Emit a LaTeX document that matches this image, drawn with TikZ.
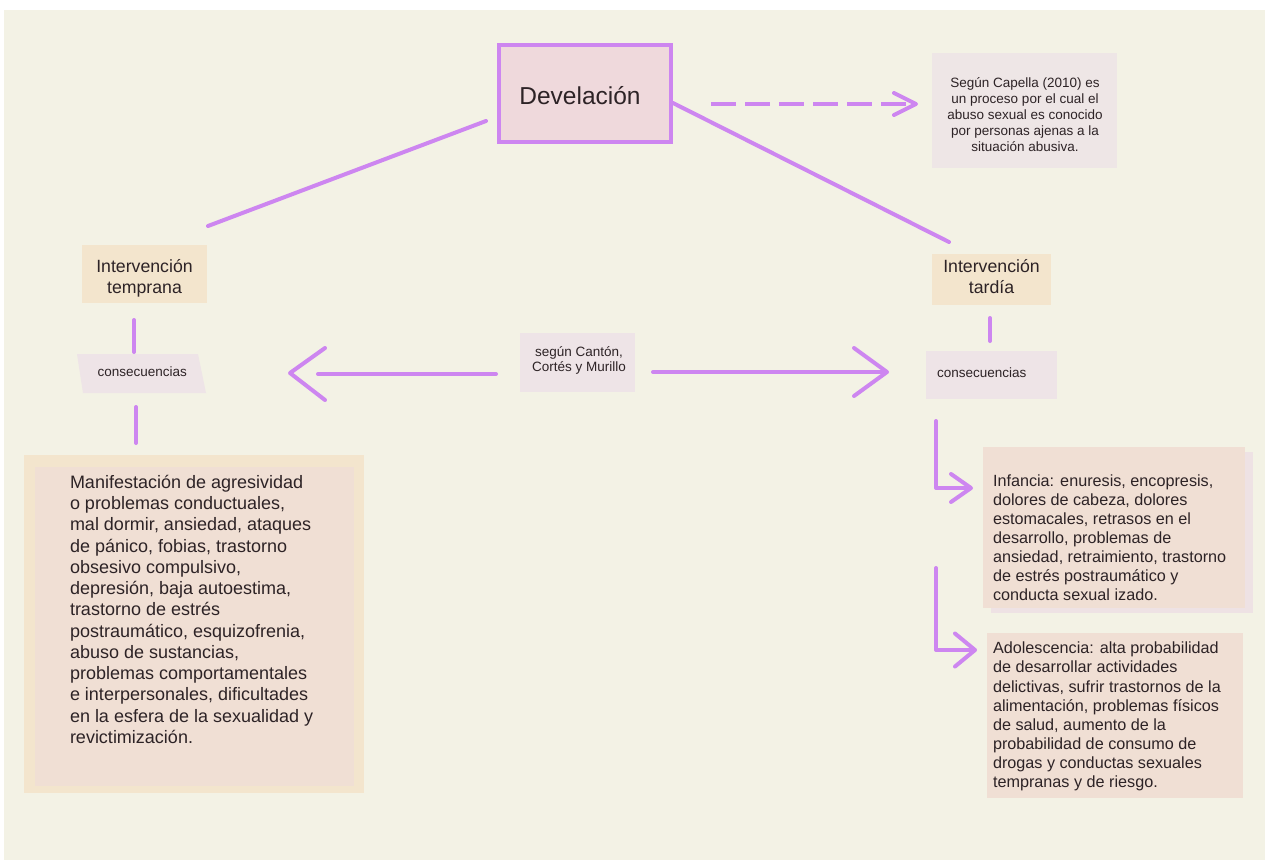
\documentclass[tikz,border=0pt]{standalone}
\usepackage{fontspec}
\setmainfont{Liberation Sans}
\usetikzlibrary{calc,arrows.meta}
\definecolor{bgc}{RGB}{243,242,229}
\definecolor{vio}{RGB}{205,134,240}
\definecolor{devfill}{RGB}{239,217,220}
\definecolor{capfill}{RGB}{238,230,230}
\definecolor{beige}{RGB}{243,229,205}
\definecolor{lav}{RGB}{238,228,231}
\definecolor{peach}{RGB}{240,223,212}
\definecolor{ghost}{RGB}{238,226,228}
\definecolor{ink}{RGB}{45,35,38}
\begin{document}
\begin{tikzpicture}[x=1pt,y=-1pt,
  conn/.style={draw=vio, line width=4pt, line cap=round, line join=round},
  barb/.style={-{Straight Barb[round,length=#1]}},
  rbox/.style={inner sep=0pt, outer sep=0pt, draw=none},
  txt/.style={inner sep=0pt, outer sep=0pt, text=ink},
  fA/.style={font=\fontsize{13.5}{15.8}\selectfont},
  fB/.style={font=\fontsize{16.2}{19.1}\selectfont},
  fC/.style={font=\fontsize{18}{21.25}\selectfont},
  fD/.style={font=\fontsize{17.7}{21}\selectfont}]
\useasboundingbox (0,0) rectangle (1265,860);
\fill[white] (0,0) rectangle (1265,860);
\fill[bgc] (4,10) rectangle (1265,860);

% boxes
\node[rbox, draw=vio, line width=4pt, fill=devfill, minimum width=172pt, minimum height=97pt] (dev) at (585,93.5) {};
\node[rbox, fill=capfill, minimum width=185pt, minimum height=115pt] (cap) at (1024.5,110.5) {};
\node[rbox, fill=beige, minimum width=125pt, minimum height=58pt] (itemp) at (144.5,274) {};
\node[rbox, fill=beige, minimum width=119pt, minimum height=51pt] (itard) at (991.5,279.5) {};
\fill[lav] (77,354) -- (198,354) -- (206,393) -- (83,393) -- cycle;
\node[rbox, fill=lav, minimum width=131pt, minimum height=48pt] (conR) at (991.5,375) {};
\node[rbox, fill=lav, minimum width=115pt, minimum height=59pt] (mid) at (577.5,362.5) {};
\node[rbox, fill=beige, minimum width=340pt, minimum height=338pt] (boxLo) at (194,624) {};
\node[rbox, fill=peach, minimum width=319pt, minimum height=319pt] (boxL) at (194.5,626.5) {};
\fill[ghost] (991,452) rectangle (1253,613);
\node[rbox, fill=peach, minimum width=262pt, minimum height=161pt] (inf) at (1114,527.5) {};
\node[rbox, fill=peach, minimum width=256pt, minimum height=165pt] (ado) at (1115,715.5) {};

% connectors
\draw[conn] ($(dev.west)+(-13,27.5)$) -- ($(itemp.north)+(63.5,-19)$);
\draw[conn] ($(dev.east)+(2,9.5)$) -- ($(itard.north)+(-42.5,-12)$);
\draw[conn, dash pattern=on 25pt off 9pt, line cap=butt, -{Straight Barb[round,length=22pt,width=22pt]}]
  ($(dev.east)+(40,10.5)$) -- ($(cap.west)+(-14,-6.5)$);
\draw[conn] ($(itemp.south)+(-10.5,17)$) -- ($(itemp.south)+(-10.5,49)$);
\draw[conn] ($(boxLo.north)+(-58,-48)$) -- ($(boxLo.north)+(-58,-12)$);
\draw[conn] ($(itard.south)+(-1.5,13)$) -- ($(itard.south)+(-1.5,36)$);
\coordinate (ltip) at (290,373);
\coordinate (rtip) at (889,372);
\draw[conn] ($(mid.west)+(-24,11.5)$) -- ($(ltip)+(28,1)$);
\draw[conn] ($(ltip)+(35,-25)$) -- (ltip) -- ($(ltip)+(35,27)$);
\draw[conn, -{Straight Barb[round,length=33pt,width=48pt]}] ($(mid.east)+(18,9.5)$) -- (rtip);
\draw[conn, -{Straight Barb[round,length=20pt,width=28pt]}] ($(conR.south)+(-55.5,22)$) |- ($(inf.west)+(-10,-39.5)$);
\draw[conn, -{Straight Barb[round,length=20pt,width=33pt]}] ($(conR.south)+(-55.5,169)$) |- ($(ado.west)+(-10,-65.5)$);

% texts
\node[txt, font=\fontsize{24.5}{29}\selectfont] (dev-t) at (580,96) {Develación};
\node[txt, fA, align=center] (cap-t) at (1025,114.5) {Según Capella (2010) es\\un proceso por el cual el\\abuso sexual es conocido\\por personas ajenas a la\\situación abusiva.};
\node[txt, fD, align=center] (itemp-t) at (144.5,278.5) {Intervención\\temprana};
\node[txt, fD, align=center] (itard-t) at (991.5,277) {Intervención\\tardía};
\node[txt, fA] (conL) at (142.3,372) {consecuencias};
\node[txt, fA, anchor=west] (conR-t) at (937,372.5) {consecuencias};
\node[txt, fA, align=center] (mid-t) at (579,360.5) {según Cantón,\\Cortés y Murillo};
\node[txt, fC, align=left, anchor=west] (boxL-t) at (70,609.2) {Manifestación de agresividad\\o problemas conductuales,\\mal dormir, ansiedad, ataques\\de pánico, fobias, trastorno\\obsesivo compulsivo,\\depresión, baja autoestima,\\trastorno de estrés\\postraumático, esquizofrenia,\\abuso de sustancias,\\problemas comportamentales\\e interpersonales, dificultades\\en la esfera de la sexualidad y\\revictimización.};
\node[txt, fB, align=left, anchor=west] (inf-t) at (993,537.5) {Infancia: enuresis, encopresis,\\dolores de cabeza, dolores\\estomacales, retrasos en el\\desarrollo, problemas de\\ansiedad, retraimiento, trastorno\\de estrés postraumático y\\conducta sexual izado.};
\node[txt, fB, align=left, anchor=west] (ado-t) at (993,716.5) {Adolescencia: alta probabilidad\\de desarrollar actividades\\delictivas, sufrir trastornos de la\\alimentación, problemas físicos\\de salud, aumento de la\\probabilidad de consumo de\\drogas y conductas sexuales\\tempranas y de riesgo.};
\end{tikzpicture}
\end{document}
